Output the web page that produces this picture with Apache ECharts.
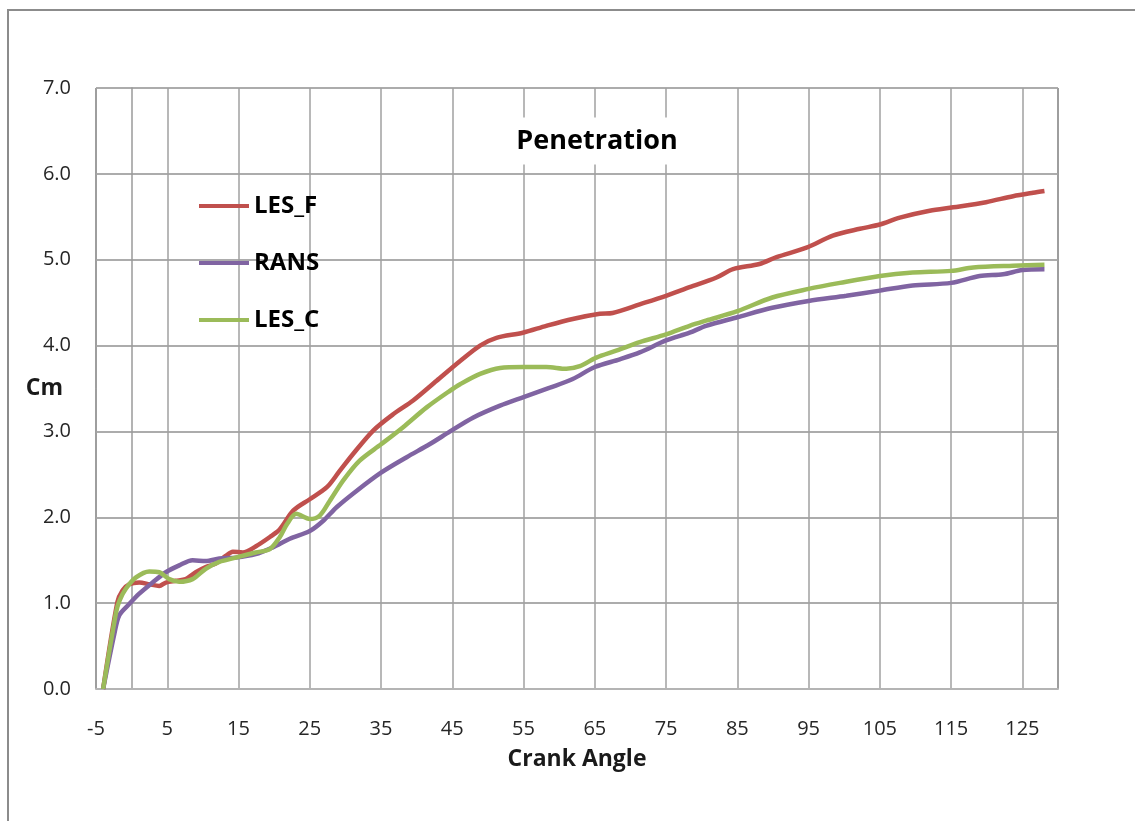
<!DOCTYPE html>
<html>
<head>
<meta charset="utf-8">
<script src="https://cdn.jsdelivr.net/npm/echarts@6/dist/echarts.min.js"></script>
<style>
  html, body { margin: 0; padding: 0; background: #fff; }
  #chart { width: 1135px; height: 821px; }
</style>
</head>
<body>
<div id="chart"></div>
<script>
// 曲线数据 (横坐标: 曲轴转角, 纵坐标: cm)
var seriesNames = ['LES_F', 'RANS', 'LES_C'];
var seriesColors = ['#c0504d', '#8064a2', '#9bbb59'];

var lesFAngle = [-4, -2.0, -1.26, -0.33, 1.07, 2.48, 3.87, 4.8, 6.2, 7.6, 9.0, 10.4, 11.8, 13.2, 14.2, 15.6, 17.4, 19.4, 20.8, 22.7, 25, 27.4, 29.2, 31.1, 33.9, 36.7, 39.5, 42.8, 46.1, 48.9, 51.2, 54.9, 58.2, 61.9, 65.7, 67.5, 71.3, 75, 78.3, 82, 84.4, 88.1, 90.5, 94.7, 98.4, 102.2, 105, 107.8, 112, 115.3, 119.9, 123.7, 126.5, 128.1];
var lesFValues = [0, 1.01, 1.15, 1.22, 1.24, 1.22, 1.20, 1.24, 1.26, 1.28, 1.36, 1.42, 1.46, 1.55, 1.60, 1.59, 1.66, 1.77, 1.86, 2.08, 2.21, 2.35, 2.54, 2.74, 3.01, 3.20, 3.36, 3.59, 3.82, 4.00, 4.09, 4.15, 4.23, 4.31, 4.37, 4.38, 4.48, 4.58, 4.68, 4.79, 4.89, 4.95, 5.03, 5.14, 5.28, 5.36, 5.41, 5.49, 5.57, 5.61, 5.67, 5.74, 5.78, 5.80];

var ransAngle = [-4, -2.43, -1.73, -0.33, 1.07, 2.94, 4.8, 6.68, 8.55, 10.4, 12.3, 14.6, 17.4, 19.8, 22.2, 25, 26.9, 28.8, 31.6, 35, 38.6, 41.8, 44.7, 47.9, 51.7, 55, 58.7, 61.9, 65, 68.5, 71.3, 75, 78.3, 80.6, 85, 89.9, 95, 100.3, 105, 109.6, 115, 119, 122.3, 125, 128.1];
var ransValues = [0, 0.64, 0.86, 0.99, 1.11, 1.24, 1.36, 1.44, 1.50, 1.49, 1.52, 1.53, 1.57, 1.65, 1.75, 1.84, 1.96, 2.12, 2.31, 2.52, 2.70, 2.85, 3.00, 3.16, 3.30, 3.40, 3.51, 3.61, 3.75, 3.84, 3.92, 4.06, 4.15, 4.23, 4.33, 4.44, 4.52, 4.58, 4.64, 4.70, 4.73, 4.81, 4.83, 4.88, 4.89];

var lesCAngle = [-4, -2.19, -1.7, -0.79, 0.61, 2.48, 3.87, 5.27, 6.68, 8.55, 10.4, 12.3, 14.6, 17.4, 19.4, 20.8, 21.8, 23.1, 25, 26.4, 27.8, 29.7, 32, 35, 38.1, 41.4, 44.6, 46.1, 48.9, 51.7, 54.9, 58.2, 61, 62.9, 65.2, 68, 71.3, 75, 78.3, 80.6, 85, 89.9, 95, 99.4, 105, 109.6, 115, 118.1, 123.7, 128.1];
var lesCValues = [0, 0.89, 1.03, 1.17, 1.30, 1.37, 1.36, 1.28, 1.25, 1.28, 1.40, 1.48, 1.53, 1.59, 1.63, 1.77, 1.92, 2.04, 1.98, 2.02, 2.19, 2.43, 2.66, 2.85, 3.05, 3.28, 3.47, 3.55, 3.67, 3.74, 3.75, 3.75, 3.73, 3.76, 3.86, 3.94, 4.04, 4.13, 4.23, 4.29, 4.40, 4.56, 4.66, 4.73, 4.81, 4.85, 4.87, 4.91, 4.93, 4.94];

var angles = [lesFAngle, ransAngle, lesCAngle];
var values = [lesFValues, ransValues, lesCValues];

var main = {
    init: function () {
        var dom = document.getElementById('chart');
        var myChart = echarts.init(dom);
        var font = '"Open Sans", "Noto Sans", sans-serif';

        var series = [];
        for (var i = 0; i < seriesNames.length; i++) {
            var pts = [];
            for (var j = 0; j < angles[i].length; j++) {
                pts.push([angles[i][j], values[i][j]]);
            }
            series.push({
                name: seriesNames[i],
                type: 'line',
                data: pts,
                showSymbol: false,
                symbol: 'none',
                smooth: 0.3,
                lineStyle: { color: seriesColors[i], width: 4.5 },
                itemStyle: { color: seriesColors[i] }
            });
        }

        var option = {
            backgroundColor: '#fff',
            animation: false,
            grid: {
                left: 96, top: 88, width: 962, height: 601,
                show: true, borderColor: '#333', borderWidth: 1,
                containLabel: false
            },
            legend: {
                orient: 'vertical',
                left: 199, top: 194,
                padding: 0,
                icon: 'rect',
                itemWidth: 50, itemHeight: 4,
                itemGap: 33,
                textStyle: { fontFamily: font, fontWeight: 'bold', fontSize: 24, lineHeight: 24, color: '#000' },
                data: seriesNames
            },
            xAxis: {
                type: 'value',
                min: -5, max: 130, interval: 10,
                name: 'Crank Angle',
                nameLocation: 'middle',
                nameGap: 59,
                nameMoveOverlap: false,
                nameTextStyle: { fontFamily: font, fontWeight: 'bold', fontSize: 23, color: '#1a1a1a' },
                axisLine: { show: true, onZero: false, lineStyle: { color: '#b4b4b4', width: 2 } },
                axisTick: { show: false },
                axisLabel: { showMaxLabel: false, margin: 30, fontFamily: font, fontSize: 20, color: '#262626' },
                splitLine: { show: true, lineStyle: { color: '#a0a0a0', width: 1.5 } }
            },
            yAxis: {
                type: 'value',
                min: 0, max: 7, interval: 1,
                name: 'Cm',
                nameLocation: 'middle',
                nameRotate: 0,
                nameGap: 33,
                nameMoveOverlap: false,
                nameTextStyle: { fontFamily: font, fontWeight: 'bold', fontSize: 23, color: '#1a1a1a' },
                axisLine: { show: true, lineStyle: { color: '#9a9a9a', width: 1.5 } },
                axisTick: { show: false },
                axisLabel: {
                    margin: 25, fontFamily: font, fontSize: 20, color: '#262626',
                    formatter: function (v) { return v.toFixed(1); }
                },
                splitLine: { show: true, lineStyle: { color: '#acacac', width: 2 } }
            },
            graphic: [
                {
                    type: 'rect', z: -10, silent: true,
                    shape: { x: 8, y: 10, width: 1300, height: 1000 },
                    style: { fill: null, stroke: '#8c8c8c', lineWidth: 2 }
                },
                {
                    type: 'text', z: 100, silent: true,
                    x: 597, y: 141,
                    style: {
                        text: 'Penetration',
                        fontFamily: font, fontWeight: 'bold', fontSize: 27,
                        fill: '#000',
                        align: 'center', verticalAlign: 'middle',
                        backgroundColor: '#fff',
                        padding: [10, 12]
                    }
                }
            ],
            series: series
        };
        myChart.setOption(option, true);
    }
};
main.init();
</script>
</body>
</html>
